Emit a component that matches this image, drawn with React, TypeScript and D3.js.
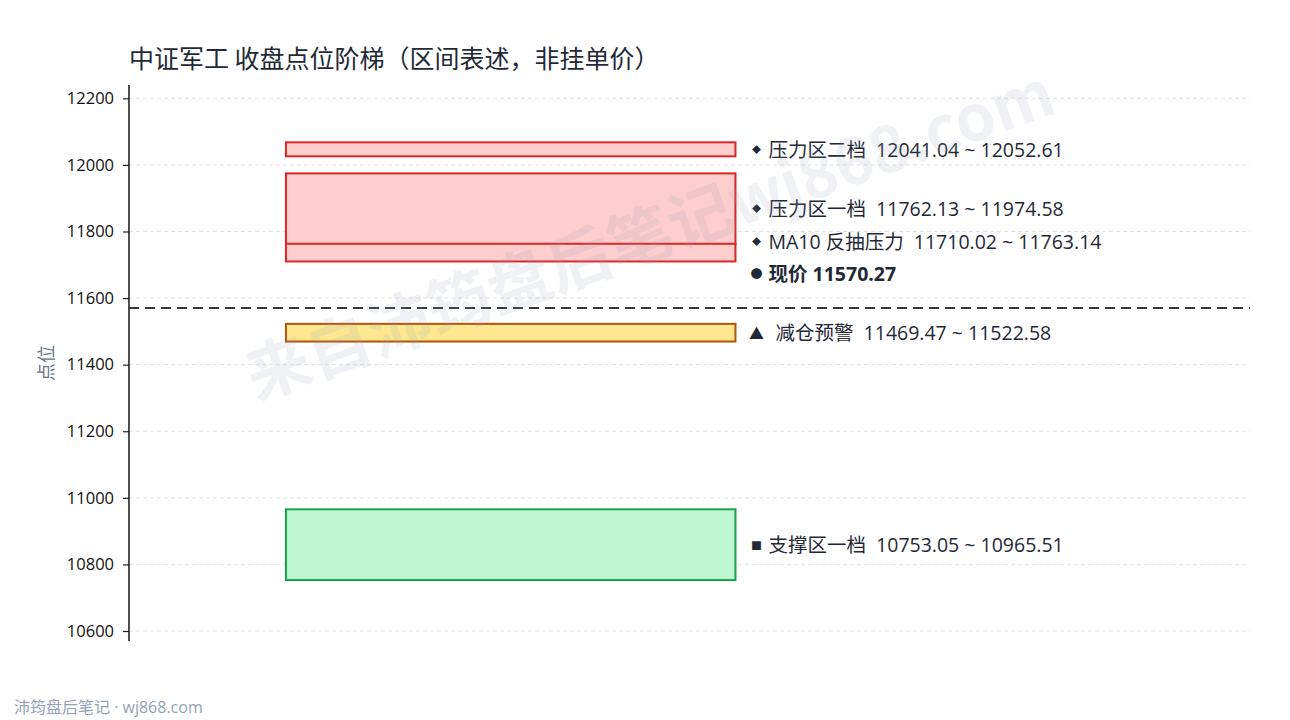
import React, { useEffect, useRef } from 'react';
import * as d3 from 'd3';

const W = 1290;
const H = 720;

const zoneNames = ['压力区二档', '压力区一档', 'MA10 反抽压力', '减仓预警', '支撑区一档'];
const zoneLow = [12041.04, 11762.13, 11710.02, 11469.47, 10753.05];
const zoneHigh = [12052.61, 11974.58, 11763.14, 11522.58, 10965.51];
const zoneKind = ['resist', 'resist', 'resist', 'warn', 'support'];
const zoneMarker = ['◆', '◆', '◆', '▲', '■'];

const currentPrice = 11570.27;
const yTicks = [10600, 10800, 11000, 11200, 11400, 11600, 11800, 12000, 12200];
const yDomain = [10570, 12240];

const palette: Record<string, { fill: string; stroke: string }> = {
  resist: { fill: '#fecaca', stroke: '#dc2626' },
  warn: { fill: '#fde68a', stroke: '#b45309' },
  support: { fill: '#bbf7d0', stroke: '#16a34a' },
};

const FONT = '"Open Sans", "Noto Sans CJK SC", sans-serif';
const CJK = '"Noto Sans CJK SC", "Noto Sans", sans-serif';

const App: React.FC = () => {
  const svgRef = useRef<SVGSVGElement>(null);

  useEffect(() => {
    if (!svgRef.current) return;
    const svg = d3.select(svgRef.current);
    svg.selectAll('*').remove();

    const margin = { top: 85, right: 40, bottom: 79, left: 129 };
    const plotRight = W - margin.right;
    const plotBottom = H - margin.bottom;

    const y = d3.scaleLinear().domain(yDomain).range([plotBottom, margin.top]);
    const x = d3.scaleLinear().domain([0, 1]).range([margin.left, plotRight]);

    svg.append('rect').attr('width', W).attr('height', H).attr('fill', '#fff');

    // grid
    svg.append('g')
      .selectAll('line')
      .data(yTicks)
      .join('line')
      .attr('x1', margin.left)
      .attr('x2', plotRight)
      .attr('y1', d => y(d))
      .attr('y2', d => y(d))
      .attr('stroke', '#d9d9d9')
      .attr('stroke-width', 0.8)
      .attr('stroke-dasharray', '4,3');

    // zone boxes (thin zones get a minimum visible height)
    const minH = 14;
    const zones = zoneNames.map((name, i) => ({
      name, lo: zoneLow[i], hi: zoneHigh[i], kind: zoneKind[i], marker: zoneMarker[i],
    }));

    svg.append('g')
      .selectAll('rect')
      .data(zones)
      .join('rect')
      .attr('x', x(0.14))
      .attr('width', x(0.541) - x(0.14))
      .attr('y', d => {
        const h = y(d.lo) - y(d.hi);
        return h < minH ? (y(d.lo) + y(d.hi)) / 2 - minH / 2 : y(d.hi);
      })
      .attr('height', d => Math.max(minH, y(d.lo) - y(d.hi)))
      .attr('fill', d => palette[d.kind].fill)
      .attr('fill-opacity', 0.95)
      .attr('stroke', d => palette[d.kind].stroke)
      .attr('stroke-width', 2);

    // current price line
    svg.append('line')
      .attr('x1', margin.left)
      .attr('x2', plotRight)
      .attr('y1', y(currentPrice))
      .attr('y2', y(currentPrice))
      .attr('stroke', '#333740')
      .attr('stroke-width', 2)
      .attr('stroke-dasharray', '10,6');

    // labels with simple upward dodge
    type Lab = { y: number; marker: string; text: string; bold: boolean };
    const labels: Lab[] = zones.map(z => ({
      y: y((z.lo + z.hi) / 2),
      marker: z.marker,
      text: `${z.name}  ${z.lo.toFixed(2)} ~ ${z.hi.toFixed(2)}`,
      bold: false,
    }));
    labels.push({ y: y(currentPrice) - 34, marker: '●', text: `现价 ${currentPrice.toFixed(2)}`, bold: true });
    labels.sort((a, b) => a.y - b.y);
    const gap = 32;
    const curIdx = labels.findIndex(l => l.bold);
    for (let i = curIdx - 1; i >= 0; i--) {
      if (labels[i + 1].y - labels[i].y < gap) labels[i].y = labels[i + 1].y - gap;
    }

    const lx = x(0.541) + 17;
    const lg = svg.append('g').attr('font-family', FONT).attr('fill', '#1f2937');
    const rows = lg.selectAll('g').data(labels).join('g')
      .attr('transform', d => `translate(${lx},${d.y})`);
    rows.append('text')
      .attr('dominant-baseline', 'central')
      .attr('font-family', CJK)
      .attr('font-size', d => (d.marker === '◆' ? 9 : d.marker === '■' ? 11 : d.marker === '●' ? 12 : 15))
      .attr('text-anchor', 'middle')
      .attr('x', 4)
      .attr('y', 0)
      .text(d => d.marker);
    rows.append('text')
      .attr('dominant-baseline', 'central')
      .attr('x', d => (d.marker === '▲' ? 23 : 16))
      .attr('font-size', 19.5)
      .attr('font-weight', d => (d.bold ? 'bold' : 'normal'))
      .style('white-space', 'pre')
      .text(d => d.text);

    // y axis
    const axis = svg.append('g')
      .attr('transform', `translate(${margin.left},0)`)
      .call(d3.axisLeft(y).tickValues(yTicks).tickSize(6).tickPadding(9).tickFormat(d3.format('d')));
    axis.select('.domain').attr('stroke', '#222').attr('stroke-width', 1.6)
      .attr('d', `M0,${margin.top}V${plotBottom}`);
    axis.selectAll('.tick line').attr('stroke', '#222').attr('stroke-width', 1.2);
    axis.selectAll('.tick text')
      .attr('font-family', FONT)
      .attr('font-size', 16.5)
      .attr('fill', '#111');

    // axis title
    svg.append('text')
      .attr('transform', `translate(45,${(margin.top + plotBottom) / 2}) rotate(-90)`)
      .attr('text-anchor', 'middle')
      .attr('dominant-baseline', 'central')
      .attr('font-family', CJK)
      .attr('font-size', 18)
      .attr('fill', '#64748b')
      .text('点位');

    // title
    svg.append('text')
      .attr('x', 129)
      .attr('y', 57)
      .attr('dominant-baseline', 'central')
      .attr('font-family', CJK)
      .attr('font-size', 25)
      .attr('fill', '#1f2937')
      .text('中证军工 收盘点位阶梯（区间表述，非挂单价）');

    // footer
    svg.append('text')
      .attr('x', 14)
      .attr('y', 707)
      .attr('dominant-baseline', 'central')
      .attr('font-family', FONT)
      .attr('font-size', 16)
      .attr('fill', '#94a3b8')
      .text('沛筠盘后笔记 · wj868.com');

    // watermark on top
    svg.append('text')
      .attr('transform', `translate(648,230) rotate(-19.8)`)
      .attr('text-anchor', 'middle')
      .attr('dominant-baseline', 'central')
      .attr('font-family', CJK)
      .attr('font-weight', 'bold')
      .attr('font-size', 64)
      .attr('fill', '#94a3b8')
      .attr('opacity', 0.14)
      .style('pointer-events', 'none')
      .text('来自沛筠盘后笔记wj868.com');
  }, []);

  return (
    <svg
      ref={svgRef}
      width={W}
      height={H}
      style={{ position: 'absolute', top: 0, left: 0, display: 'block' }}
    />
  );
};

export default App;
